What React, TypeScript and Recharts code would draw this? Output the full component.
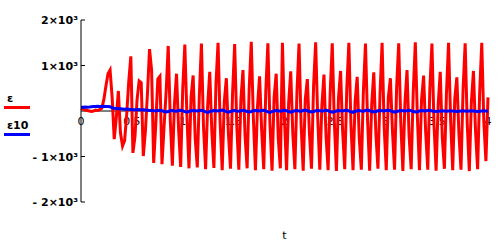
import { Line, LineChart, ReferenceDot, ReferenceLine, XAxis, YAxis } from 'recharts';

// samples of t run evenly from 0 to 4
const T_END = 4;

// ε (red)
const EPS = [
  60, 40, 20, 10, 0, -10, 0, 20, 10, 30,
  60, 250, 550, 820, 900, 300, -620, -150, 440, -480,
  -770, -650, -80, 650, 1200, -920, -560, 250, 660, 620,
  -990, -450, 380, 1360, 900, -1140, -300, 700, 760, -1170,
  -350, 420, 1430, -200, -1200, 150, 820, -400, -1230, 500,
  1460, -100, -1260, 300, 780, -600, -1240, 350, 1480, -350,
  -1280, 120, 860, -450, -1250, 600, 1500, -250, -1300, 200,
  720, -500, -1270, 400, 1470, -300, -1290, 250, 900, -550,
  -1260, 500, 1520, -150, -1300, 100, 760, -420, -1280, 450,
  1490, -280, -1310, 300, 820, -600, -1260, 1500, -200, -1300,
  180, 870, -500, -1280, 420, 1480, -300, -1310, 250, 700,
  -480, -1270, 550, 1510, -150, -1290, 120, 800, -550, -1300,
  400, 1490, -250, -1320, 280, 880, -450, -1280, 500, 1500,
  -300, -1300, 200, 750, -600, -1290, 450, 1480, -200, -1310,
  150, 850, -500, -1270, 380, 1500, -350, -1300, 300, 720,
  -450, -1290, 520, 1490, -250, -1320, 180, 900, -550, -1280,
  420, 1510, -150, -1300, 250, 780, -480, -1290, 500, 1480,
  -300, -1310, 130, 860, -600, -1270, 400, 1500, -200, -1300,
  270, 740, -500, -1290, 480, 1490, -280, -1320, 200, 880,
  -450, -1280, 430, 1500, -250, -1100, 300,
];

// ε10 (blue)
const EPS10 = [
  80, 80, 85, 80, 85, 95, 100, 100, 105, 100,
  100, 105, 100, 100, 95, 70, 60, 55, 50, 50,
  45, 40, 45, 40, 35, 30, 30, 25, 30, 20,
  25, 20, 15, 10, 10, 5, 0, 10, 15, 5,
  -10, -20, -10, 5, 10, 0, -5, 10, 15, 5,
  -15, -25, -10, 5, 10, 5, 0, 10, 15, 0,
  -20, -30, -15, 0, 10, 5, 0, 10, 20, 5,
  -15, -25, -10, 5, 10, 0, -5, 5, 15, 5,
  -10, -20, -10, 5, 10, 5, 0, 10, 15, 0,
  -20, -30, -15, 0, 10, 5, -5, 5, 15, 5,
  -15, -25, -10, 5, 10, 0, -5, 10, 20, 5,
  -10, -20, -10, 5, 10, 5, 0, 5, 15, 5,
  -15, -25, -15, 0, 10, 5, 0, 10, 15, 0,
  -20, -30, -10, 5, 10, 0, -5, 10, 20, 5,
  -10, -20, -10, 5, 10, 5, 0, 10, 15, 5,
  -15, -25, -10, 0, 10, 5, 0, 5, 15, 5,
  -10, -20, -15, 0, 10, 5, 0, 10, 15, 0,
  -5, -10, -5, 0, 5, 0, -5, 0, 5, 0,
  -5, -10, -5, 0, 5, 0, -5, 0, 5, 0,
  -5, -10, -5, 0, 5, 0, -5,
];

const X_TICKS = [0, 0.5, 1, 1.5, 2, 2.5, 3, 3.5, 4];
const X_LABELS = ['0', '0.5', '1', '1.5', '2', '2.5', '3', '3.5', '4'];
const Y_TICKS = [-2000, -1000, 0, 1000, 2000];
const Y_LABELS: Record<number, string> = {
  2000: '2×10³', 1000: '1×10³', 0: '', [-1000]: '- 1×10³', [-2000]: '- 2×10³',
};

const RED = '#ff0000';
const BLUE = '#0000ff';
const FONT = '"DejaVu Sans", sans-serif';

const n = Math.min(EPS.length, EPS10.length);
const data = EPS.slice(0, n).map((v, i) => ({ t: (i * T_END) / (n - 1), eps: v, eps10: EPS10[i] }));

function YTick({ x, y, payload }: any) {
  const label = Y_LABELS[payload.value];
  return (
    <g>
      {label && <line x1={x} x2={x + 4} y1={y} y2={y} stroke="#000" />}
      <text x={x - 3} y={y} dy={4} textAnchor="end" fontSize={11} fontWeight="bold" fontFamily={FONT} fill="#000">{label}</text>
    </g>
  );
}

export default function App() {
  return (
    <div style={{ position: 'absolute', left: 0, top: 0, width: 504, height: 243, background: '#fff' }}>
      <LineChart width={504} height={243} data={data} margin={{ top: 20, right: 16, bottom: 0, left: 0 }}>
        <XAxis dataKey="t" type="number" domain={[0, T_END]} height={41} axisLine={false} tickLine={false} tick={false}
          label={{ value: 't', position: 'insideBottom', offset: 4, fontSize: 11, fontFamily: FONT, fill: '#000' }} />
        <YAxis type="number" domain={[-2000, 2000]} ticks={Y_TICKS} width={81} tickSize={0} tickMargin={0}
          axisLine={{ stroke: '#000' }} tickLine={false} tick={<YTick />} interval={0} />
        <ReferenceLine y={0} stroke="#000" zIndex={0} />
        {X_TICKS.map((t, i) => (
          <ReferenceDot key={t} x={t} y={0} r={0} fill="none" stroke="none" zIndex={0}
            label={{ value: X_LABELS[i], position: 'bottom', offset: 6, fontSize: 11, fontFamily: FONT, fill: '#000', zIndex: 0 }} />
        ))}
        <Line dataKey="eps" stroke={RED} strokeWidth={3} dot={false} isAnimationActive={false} />
        <Line dataKey="eps10" stroke={BLUE} strokeWidth={3} dot={false} isAnimationActive={false} />
      </LineChart>
      <div style={{ position: 'absolute', left: 4, top: 92, fontFamily: FONT, fontSize: 11, fontWeight: 'bold', color: '#000' }}>
        <div style={{ paddingLeft: 3, height: 14 }}>ε</div>
        <div style={{ width: 26, height: 3, background: RED, marginBottom: 10 }} />
        <div style={{ paddingLeft: 3, height: 14 }}>ε10</div>
        <div style={{ width: 26, height: 3, background: BLUE }} />
      </div>
    </div>
  );
}
